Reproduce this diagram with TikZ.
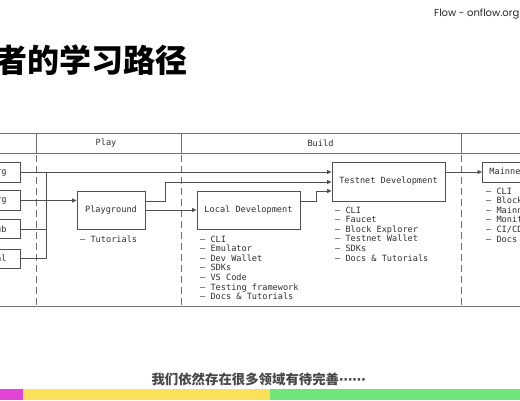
\documentclass[tikz,border=0pt]{standalone}
\usepackage{fontspec}
\setmonofont{DejaVu Sans Mono}
\newfontfamily\cjkfont{Noto Sans CJK SC}
\newfontfamily\popfont{Poppins}
\newfontfamily\dvsfont{DejaVu Sans}
\usetikzlibrary{arrows.meta}
\definecolor{fr}{HTML}{707070}
\definecolor{bx}{HTML}{505050}
\definecolor{tx}{HTML}{303030}
\definecolor{barM}{HTML}{E244D6}
\definecolor{barY}{HTML}{FDE05A}
\definecolor{barG}{HTML}{6FE57A}
\tikzset{
  frameline/.style={draw=fr, line width=0.9pt},
  dashv/.style={draw=fr, line width=0.9pt, dash pattern=on 7pt off 4pt},
  mono/.style={font=\ttfamily\fontsize{8.6pt}{9.6pt}\selectfont, text=tx},
  box/.style={mono, draw=bx, line width=0.9pt, fill=white, inner sep=0pt},
  srcbox/.style={box, text width=100pt, align=right, inner xsep=14pt, anchor=east},
  lst/.style={mono, inner sep=0pt, anchor=base west},
  con/.style={draw=bx, line width=0.8pt},
  arr/.style={con, -{Triangle[length=4.5pt,width=4pt]}},
}
\begin{document}
\begin{tikzpicture}[x=1pt,y=-1pt]
\useasboundingbox (0,0) rectangle (520,400);
\clip (0,0) rectangle (520,400);
\fill[white] (0,0) rectangle (520,400);

% header texts
\node[anchor=east, inner sep=0pt, font=\popfont\fontsize{10pt}{10pt}\selectfont, text=black!85] (brand) at (519.5,14) {Flow - onflow.org};
\node[anchor=east, inner sep=0pt, font=\cjkfont\bfseries\fontsize{32pt}{32pt}\selectfont, text=black] (title) at (188,60) {开发者的学习路径};

% frame
\draw[frameline] (-10,133) -- (530,133);
\draw[frameline] (-10,153) -- (530,153);
\draw[frameline] (-10,306) -- (530,306);
\foreach \xx in {36,181,461}{
  \draw[frameline] (\xx,133) -- (\xx,153);
  \draw[dashv] (\xx,155) -- (\xx,306);
}
\node[mono, inner sep=0pt] (hplay) at (106,143) {Play};
\node[mono, inner sep=0pt] (hbuild) at (320.5,143) {Build};

% source boxes (cut at left edge)
\node[srcbox, minimum height=20pt] (s1) at (21,172) {onflow.org};
\node[srcbox, minimum height=20pt] (s2) at (21,200.5) {docs.onflow.org};
\node[srcbox, minimum height=19pt] (s3) at (21,229) {GitHub};
\node[srcbox, minimum height=19pt] (s4) at (21,258.5) {Tutorial};

% main boxes
\node[box, minimum width=68pt, minimum height=38pt] (pg) at (111,210) {Playground};
\node[box, minimum width=103pt, minimum height=38pt] (ld) at (248.5,210) {Local Development};
\node[box, minimum width=113pt, minimum height=39pt] (tn) at (388.5,181.5) {Testnet Development};
\node[box, minimum height=20pt, inner xsep=7pt, anchor=west] (mn) at (482,172) {Mainnet Deployment};

% lists
\node[lst] (pgl1) at (80,242) {– Tutorials};
\foreach \t [count=\i from 0] in {CLI,Emulator,Dev Wallet,SDKs,VS Code,Testing framework,Docs \& Tutorials}{
  \node[lst] (ldl\i) at (200,242+9.6*\i) {– \t};
}
\foreach \t [count=\i from 0] in {CLI,Faucet,Block Explorer,Testnet Wallet,SDKs,Docs \& Tutorials}{
  \node[lst] (tnl\i) at (335,213+9.6*\i) {– \t};
}
\foreach \t [count=\i from 0] in {CLI,Block Explorer,Mainnet Wallet,Monitoring,CI/CD,Docs \& Tutorials}{
  \node[lst] (mnl\i) at (486,194+9.6*\i) {– \t};
}

% connectors
\coordinate (j) at (46,172);
\draw[arr] (s1.east) -- (s1.east -| tn.west);
\draw[con] (s3.east) -| (j);
\draw[con] (s4.east) -| (j);
\draw[arr] (s2.east) -- (s2.east -| pg.west);
\coordinate (pgo) at ([yshift=9pt]pg.east);
\coordinate (pgk) at (165,201);
\draw[arr] (pgo) -- (pgk) |- ([yshift=-0.5pt]tn.west);
\draw[arr] (pg.east) -- (ld.west);
\coordinate (ldo) at ([yshift=9pt]ld.east);
\coordinate (ldk) at (316,201);
\draw[arr] (ldo) -- (ldk) |- ([yshift=-9.5pt]tn.west);
\coordinate (tno) at ([yshift=9.5pt]tn.east);
\draw[arr] (tno) -- (mn.west);

% bottom
\node[inner sep=0pt, font=\cjkfont\bfseries\fontsize{13.4pt}{13.4pt}\selectfont, text=black!72] (foot) at (258.7,379) {我们依然存在很多领域有待完善{\dvsfont\bfseries ⋯⋯}};
\fill[barM] (0,389) rectangle (23,400);
\fill[barY] (23,389) rectangle (270,400);
\fill[barG] (270,389) rectangle (520,400);
\end{tikzpicture}
\end{document}
